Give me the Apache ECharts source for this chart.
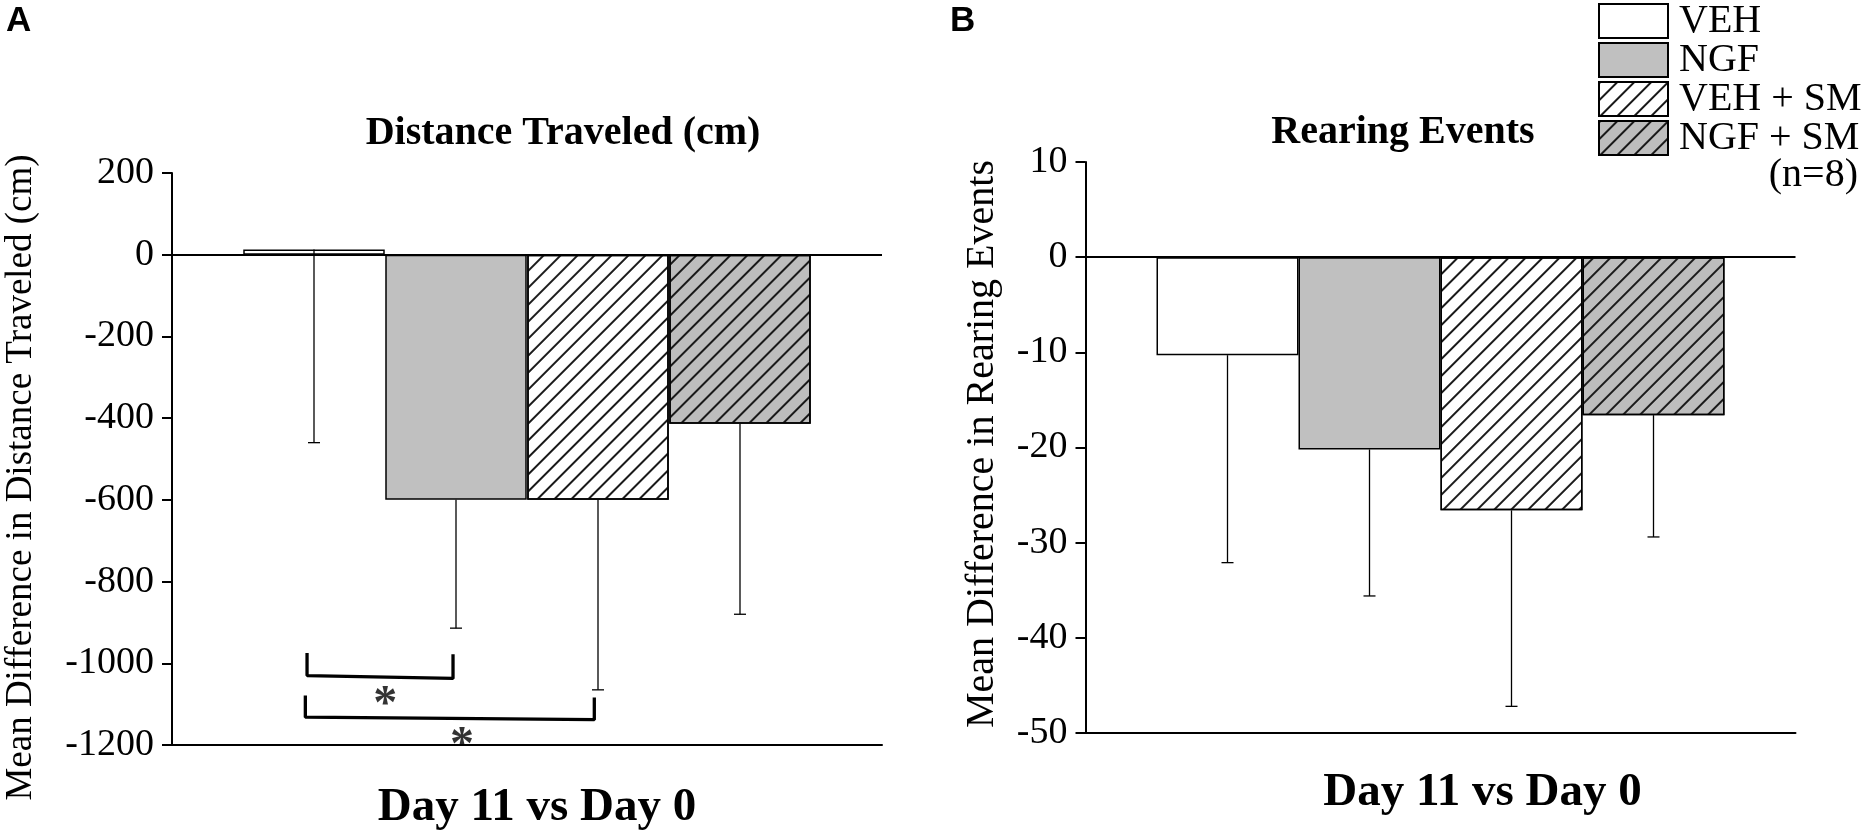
<!DOCTYPE html>
<html><head><meta charset="utf-8">
<script src="https://cdn.jsdelivr.net/npm/echarts@6/dist/echarts.min.js"></script>
<style>html,body{margin:0;padding:0;background:#fff}#c{width:1869px;height:837px}</style>
</head><body><div id="c"></div>
<script>
// ---- data ----
const groups = ['VEH', 'NGF', 'VEH + SM', 'NGF + SM'];
const groupPos = [1, 2, 3, 4];
const distMean = [13, -600, -600, -414];
const distErr = [473, 314, 465, 466];
const rearMean = [-10.3, -20.2, -26.6, -16.6];
const rearErr = [21.8, 15.4, 20.6, 12.8];
const distAxis = { min: -1200, max: 200, interval: 200 };
const rearAxis = { min: -50, max: 10, interval: 10 };
// significance brackets (x in group units, y in cm)
const bracket1 = [[0.951, -975], [0.951, -1030], [1.979, -1037], [1.979, -978]];
const bracket2 = [[0.939, -1079], [0.939, -1132], [2.974, -1138], [2.974, -1084]];
const sigStars = [[1.502, -1086], [2.042, -1187]];

const SERIF = 'Liberation Serif';
const fills = ['#ffffff', '#c0c0c0', '#ffffff', '#bdbdbd'];
const hatched = [false, false, true, true];
const hatch = { symbol: 'rect', symbolSize: 1, dashArrayX: [1, 0], dashArrayY: [1.3, 10], rotation: -Math.PI / 4, color: '#1a1a1a' };

function renderErr(params, api) {
  const x = api.value(0), m = api.value(1), lo = api.value(2);
  const p1 = api.coord([x, m]), p2 = api.coord([x, lo]);
  const cap = 6;
  const st = { stroke: '#000', lineWidth: 1.3 };
  return { type: 'group', children: [
    { type: 'line', shape: { x1: p1[0], y1: p1[1], x2: p2[0], y2: p2[1] }, style: st },
    { type: 'line', shape: { x1: p2[0] - cap, y1: p2[1], x2: p2[0] + cap, y2: p2[1] }, style: st }
  ]};
}

function barSeries(idx, means, barW) {
  return groups.map((g, i) => {
    const s = {
      type: 'bar', name: g, xAxisIndex: idx, yAxisIndex: idx,
      data: [[groupPos[i], means[i]]], barWidth: barW, barGap: '-100%',
      itemStyle: { color: fills[i], borderColor: '#000', borderWidth: 1.5 },
      emphasis: { disabled: true }, z: 2
    };
    if (hatched[i]) s.itemStyle.decal = hatch;
    if (i === 0) s.markLine = {
      silent: true, symbol: ['none', 'none'], label: { show: false },
      lineStyle: { type: 'solid', color: '#000', width: 2 },
      emphasis: { disabled: true }, data: [{ yAxis: 0 }], animation: false
    };
    return s;
  });
}
function errSeries(idx, means, errs) {
  return { type: 'custom', xAxisIndex: idx, yAxisIndex: idx, z: 4, silent: true,
    renderItem: renderErr, encode: { x: 0, y: [1, 2] },
    data: groups.map((g, i) => [groupPos[i], means[i], means[i] - errs[i]]) };
}

const axisLineStyle = { show: true, lineStyle: { color: '#000', width: 2 } };
function xAx(idx, padLeft, gap) {
  return { type: 'value', gridIndex: idx, min: 0, max: 5, name: 'Day 11 vs Day 0',
    nameLocation: 'middle', nameGap: gap,
    nameTextStyle: { fontFamily: SERIF, fontWeight: 'bold', fontSize: 47, lineHeight: 47, color: '#000', padding: [0, 0, 0, padLeft] },
    axisLine: { show: true, onZero: false, lineStyle: { color: '#000', width: 2 } },
    axisTick: { show: false }, axisLabel: { show: false }, splitLine: { show: false } };
}
function yAx(idx, ax, name, gap, fs, pad) {
  return { type: 'value', gridIndex: idx, min: ax.min, max: ax.max, interval: ax.interval,
    name: name, nameLocation: 'middle', nameGap: gap,
    nameTextStyle: { fontFamily: SERIF, fontSize: fs, lineHeight: fs, color: '#000', padding: pad },
    axisLine: axisLineStyle,
    axisTick: { show: true, inside: false, length: 10, lineStyle: { color: '#000', width: 2 } },
    axisLabel: { margin: 18, fontFamily: SERIF, fontSize: 38, color: '#000', formatter: v => String(v) },
    splitLine: { show: false } };
}

const chart = echarts.init(document.getElementById('c'));
chart.setOption({
  animation: false,
  backgroundColor: '#fff',
  title: [
    { text: 'A', left: 6, top: 4, padding: 0, textStyle: { fontFamily: 'Liberation Sans', fontWeight: 'bold', fontSize: 35, lineHeight: 35, color: '#000' } },
    { text: 'B', left: 950, top: 4, padding: 0, textStyle: { fontFamily: 'Liberation Sans', fontWeight: 'bold', fontSize: 35, lineHeight: 35, color: '#000' } },
    { text: 'Distance Traveled (cm)', left: 563, top: 114, textAlign: 'center', padding: 0, textStyle: { fontFamily: SERIF, fontWeight: 'bold', fontSize: 40, lineHeight: 40, color: '#000' } },
    { text: 'Rearing Events', left: 1403, top: 113, textAlign: 'center', padding: 0, textStyle: { fontFamily: SERIF, fontWeight: 'bold', fontSize: 40, lineHeight: 40, color: '#000' } },
    { text: '(n=8)', right: 11, top: 155, padding: 0, textStyle: { fontFamily: SERIF, fontWeight: 'normal', fontSize: 40, lineHeight: 40, color: '#000' } }
  ],
  legend: {
    data: groups, orient: 'vertical', left: 1598, top: 1, padding: 0,
    itemWidth: 69, itemHeight: 34, itemGap: -1, icon: 'rect', selectedMode: false,
    itemStyle: { borderColor: '#000', borderWidth: 2 },
    textStyle: { fontFamily: SERIF, fontSize: 40, lineHeight: 34, color: '#000', padding: [0, 0, 0, 6] }
  },
  grid: [
    { left: 172, top: 173, width: 710, height: 572, containLabel: false, outerBoundsMode: 'none' },
    { left: 1085.5, top: 162, width: 710, height: 571, containLabel: false, outerBoundsMode: 'none' }
  ],
  xAxis: [xAx(0, 20, 39), xAx(1, 84, 36)],
  yAxis: [
    yAx(0, distAxis, 'Mean Difference in Distance Traveled (cm)', 132, 37, [0, 37, 0, 0]),
    yAx(1, rearAxis, 'Mean Difference in Rearing Events', 83, 40, [0, 0, 0, 7])
  ],
  series: [
    ...barSeries(0, distMean, 141.5),
    errSeries(0, distMean, distErr),
    ...barSeries(1, rearMean, 142),
    errSeries(1, rearMean, rearErr),
    { type: 'line', xAxisIndex: 0, yAxisIndex: 0, data: bracket1, symbol: 'none', silent: true, z: 5,
      lineStyle: { color: '#000', width: 3.3 } },
    { type: 'line', xAxisIndex: 0, yAxisIndex: 0, data: bracket2, symbol: 'none', silent: true, z: 5,
      lineStyle: { color: '#000', width: 3.3 } },
    { type: 'scatter', xAxisIndex: 0, yAxisIndex: 0, data: sigStars, symbolSize: 0, silent: true, z: 6,
      label: { show: true, position: 'inside', formatter: '*', offset: [0, 7], fontFamily: SERIF, fontWeight: 'bold', fontSize: 48, color: '#000' } }
  ]
});
</script></body></html>
